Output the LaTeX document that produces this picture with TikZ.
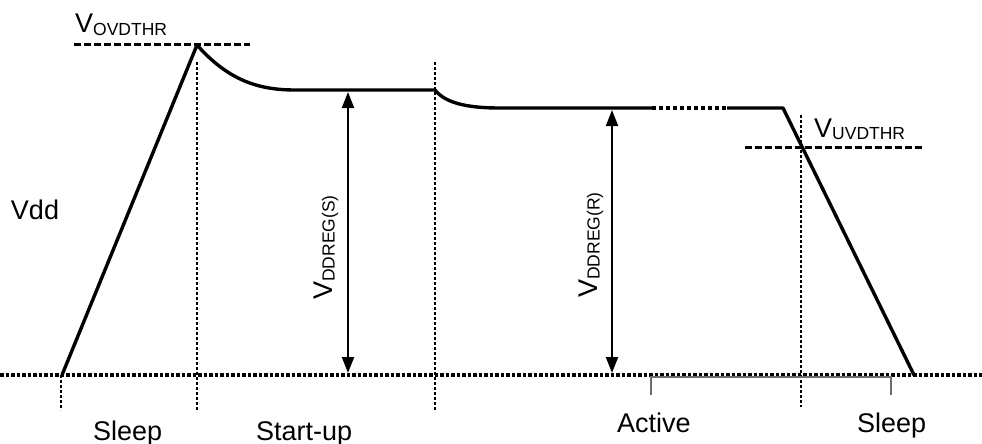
\documentclass[tikz,border=0pt]{standalone}
\usepackage{fontspec}
\setmainfont{Liberation Sans}
\usepackage{xcolor}
\definecolor{waveBlack}{HTML}{000000}
\definecolor{bracketGray}{HTML}{6E6E6E}
\usepackage{tikz}
\usetikzlibrary{arrows.meta, positioning}
\newcommand{\vlevel}[1]{V\raisebox{-2.5pt}{\fontsize{17.5}{18}\selectfont #1}}

\begin{document}
\begin{tikzpicture}[x=1pt, y=-1pt,
    wave/.style={waveBlack, line width=3.4pt, line join=round},
    level/.style={waveBlack, line width=3pt, dash pattern=on 6.5pt off 3.5pt},
    ground/.style={waveBlack, line width=3.2pt, dash pattern=on 3.5pt off 2pt},
    marker/.style={waveBlack, line width=1.3pt, dash pattern=on 3pt off 2pt},
    span/.style={waveBlack, line width=2pt, {Triangle[length=16pt,width=12pt]}-{Triangle[length=16pt,width=12pt]}},
    lbl/.style={font=\fontsize{27}{31}\selectfont, inner sep=0pt}]
    \useasboundingbox (0,0) rectangle (982,444);
    % Vdd waveform through sleep, start-up, active and sleep
    \coordinate (g0) at (0,375);
    \coordinate (g1) at (982,375);
    \coordinate (start) at (62,375);
    \coordinate (peak) at (197,45);
    \coordinate (s1) at (295,90);
    \coordinate (s2) at (435,90);
    \coordinate (r1) at (500,108);
    \coordinate (r2) at (652,108);
    \coordinate (r3) at (727,108);
    \coordinate (r4) at (783,108);
    \coordinate (stop) at (914,375);
    \coordinate (ovdA) at (74,45);
    \coordinate (ovdB) at (250,45);
    \coordinate (uvdA) at (745,147);
    \coordinate (uvdB) at (924,147);

    \draw[ground] (g0) -- (g1);
    \draw[level] (ovdA) -- (ovdB);
    \draw[level] (uvdA) -- (uvdB);
    \foreach \x/\ya/\yb in {61/375/410, 197/62/410, 435/62/410, 801/115/407}
        \draw[marker] (\x,\ya) -- (\x,\yb);

    \draw[wave] (start) -- (peak) .. controls (228,80) and (258,90) .. (s1) -- (s2)
        .. controls (446,104) and (470,108) .. (r1) -- (r2);
    \draw[wave, dash pattern=on 4pt off 3pt] (r2) -- (r3);
    \draw[wave] (r3) -- (r4) -- (stop);

    % regulated levels
    \coordinate (sTop) at (348,92);
    \coordinate (sBot) at (348,373);
    \coordinate (rTop) at (612,110);
    \coordinate (rBot) at (612,373);
    \draw[span] (sTop) -- (sBot);
    \draw[span] (rTop) -- (rBot);

    % active / sleep bracket
    \draw[bracketGray, line width=1.4pt] (651,395) -- (651,377) -- (891,377) -- (891,395);

    \node[lbl] (vdd) at (35,210) {Vdd};
    \node[lbl, anchor=base west] (ovd) at (75,33) {\vlevel{OVDTHR}};
    \node[lbl, anchor=base west] (uvd) at (814,137) {\vlevel{UVDTHR}};
    \node[lbl, rotate=90, anchor=base west] (regS) at (332,300) {\vlevel{DDREG(S)}};
    \node[lbl, rotate=90, anchor=base west] (regR) at (597,298) {\vlevel{DDREG(R)}};
    \node[lbl, anchor=base west] (sleepA) at (93,440) {Sleep};
    \node[lbl, anchor=base west] (startup) at (256,440) {Start-up};
    \node[lbl, anchor=base west] (active) at (617,432) {Active};
    \node[lbl, anchor=base west] (sleepB) at (857,432) {Sleep};
\end{tikzpicture}
\end{document}
